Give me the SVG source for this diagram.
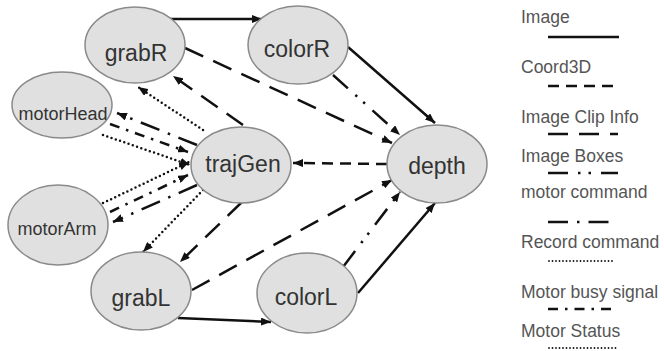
<svg xmlns="http://www.w3.org/2000/svg" width="664" height="351" viewBox="0 0 664 351">
<style>
.node ellipse{fill:#e0e0e0;stroke:#8a8a8a;stroke-width:1.5}
.lbl{font-family:"Liberation Sans",Arial,sans-serif;font-size:23px;fill:#333;text-anchor:middle}
.sml{font-size:18px}
.leg{font-family:"Liberation Sans",Arial,sans-serif;font-size:17.5px;fill:#555}
.e{fill:none;stroke:#111;stroke-width:2.5}
.img{}
.c3d{stroke-dasharray:11 7}
.clip{stroke-dasharray:20 11}
.box{stroke-dasharray:20 10 2.5 8 2.5 10}
.mcmd{stroke-dasharray:20 9 2.5 9}
.rec{stroke-width:2.5;stroke-dasharray:0 4.5;stroke-linecap:round}
.busy{stroke-dasharray:10 7 2.5 7}
.stat{stroke-width:2.5;stroke-dasharray:0 4.5;stroke-linecap:round}
.arr .e{marker-end:url(#ah)}
</style>
<defs>
<marker id="ah" markerUnits="userSpaceOnUse" markerWidth="10" markerHeight="8" refX="10" refY="4" orient="auto">
<path d="M0,0 L10,4 L0,8 z" fill="#111"/>
</marker>
</defs>
<g id="connectors" class="arr">
<line class="e img" x1="170" y1="19" x2="262" y2="19"/>
<line class="e img" x1="178" y1="318" x2="271" y2="322"/>
<line class="e img" x1="348" y1="47" x2="435" y2="123"/>
<line class="e img" x1="358" y1="293" x2="435" y2="203"/>
<line class="e box" x1="333" y1="75" x2="400" y2="135"/>
<line class="e box" x1="343" y1="267" x2="400" y2="192"/>
<line class="e clip" x1="185" y1="48" x2="392" y2="143"/>
<line class="e clip" x1="192" y1="290" x2="392" y2="180"/>
<line class="e c3d" x1="387" y1="164" x2="293" y2="163"/>
<line class="e clip" x1="243" y1="125" x2="173" y2="76"/>
<line class="e rec" x1="203" y1="130" x2="138" y2="87"/>
<line class="e clip" x1="242" y1="202" x2="180" y2="262"/>
<line class="e rec" x1="203" y1="190" x2="143" y2="252"/>
<line class="e mcmd" x1="197" y1="145" x2="117" y2="113"/>
<line class="e busy" x1="110" y1="124" x2="188" y2="152"/>
<line class="e stat" x1="103" y1="135" x2="190" y2="165"/>
<line class="e stat" x1="103" y1="203" x2="189" y2="162"/>
<line class="e busy" x1="110" y1="212" x2="188" y2="175"/>
<line class="e mcmd" x1="197" y1="185" x2="113" y2="222"/>
</g>
<g id="grabR" class="node"><ellipse cx="135" cy="45" rx="50" ry="38"/><text class="lbl" x="136" y="61">grabR</text></g>
<g id="colorR" class="node"><ellipse cx="298" cy="45" rx="50" ry="39"/><text class="lbl" x="297" y="57">colorR</text></g>
<g id="motorHead" class="node"><ellipse cx="62" cy="105" rx="50" ry="33"/><text class="lbl sml" x="63" y="120">motorHead</text></g>
<g id="trajGen" class="node"><ellipse cx="241" cy="165" rx="50" ry="38"/><text class="lbl" x="243" y="172">trajGen</text></g>
<g id="depth" class="node"><ellipse cx="437" cy="164" rx="50" ry="39"/><text class="lbl" x="437" y="174">depth</text></g>
<g id="motorArm" class="node"><ellipse cx="58" cy="225" rx="50" ry="40"/><text class="lbl sml" x="57" y="235">motorArm</text></g>
<g id="grabL" class="node"><ellipse cx="141" cy="291" rx="50" ry="39"/><text class="lbl" x="141" y="306">grabL</text></g>
<g id="colorL" class="node"><ellipse cx="307" cy="293" rx="50" ry="40"/><text class="lbl" x="306" y="305">colorL</text></g>
<g id="legend">
<text class="leg" x="521" y="23">Image</text>
<line class="e img" x1="548" y1="37" x2="619" y2="37" stroke-width="3"/>
<text class="leg" x="521" y="73">Coord3D</text>
<line class="e c3d" x1="548" y1="86" x2="618" y2="86"/>
<text class="leg" x="521" y="123">Image Clip Info</text>
<line class="e clip" x1="548" y1="134" x2="618" y2="134"/>
<text class="leg" x="521" y="162">Image Boxes</text>
<line class="e box" x1="548" y1="173" x2="618" y2="173"/>
<text class="leg" x="521" y="198">motor command</text>
<line class="e mcmd" x1="548" y1="222" x2="615" y2="222"/>
<text class="leg" x="521" y="248">Record command</text>
<line class="e rec" x1="549" y1="261" x2="615" y2="261" style="stroke-width:1.8;stroke-dasharray:0 3.5"/>
<text class="leg" x="521" y="298">Motor busy signal</text>
<line class="e busy" x1="548" y1="309" x2="617" y2="309"/>
<text class="leg" x="521" y="337">Motor Status</text>
<line class="e stat" x1="549" y1="348" x2="616" y2="348" style="stroke-width:1.8;stroke-dasharray:0 3.5"/>
</g>
</svg>
